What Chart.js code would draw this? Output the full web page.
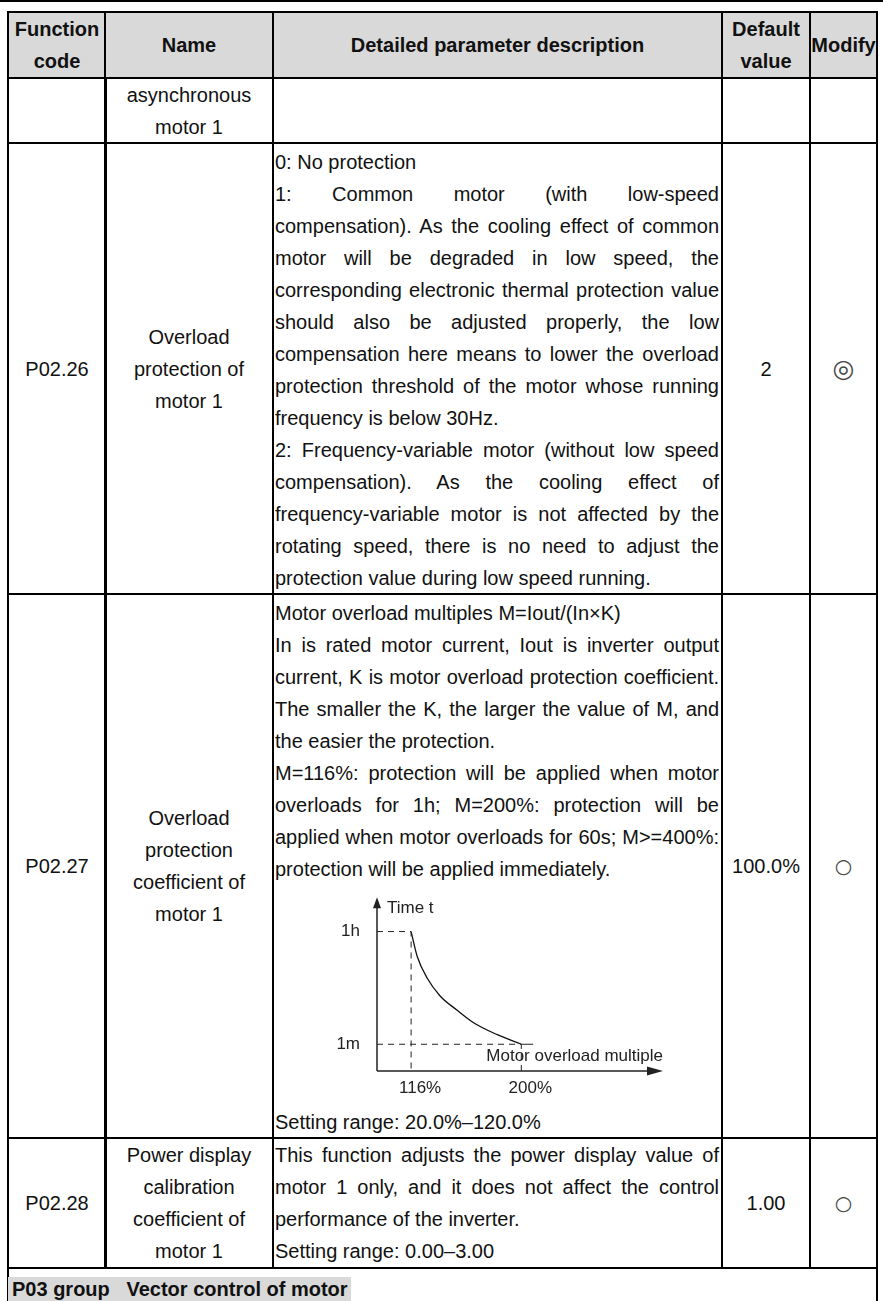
<!DOCTYPE html>
<html>
<head>
<meta charset="utf-8">
<script src="https://cdn.jsdelivr.net/npm/chart.js@4.4.0/dist/chart.umd.min.js"></script>
<style>
  html, body { margin: 0; padding: 0; background: #fff; }
  body { width: 883px; height: 1301px; position: relative; overflow: hidden;
         font-family: "Liberation Sans", Arial, sans-serif; font-size: 20px; color: #111; }
  .rule { position: absolute; left: 0; top: 0; width: 883px; height: 2px; background: #000; }
  .cell { position: absolute; box-sizing: border-box; border: 2px solid #000; }
  .hd { background: #d9d9d9; font-weight: bold; }
  .mid { display: flex; align-items: center; justify-content: center; text-align: center; line-height: 32px; }
  .desc { padding: 2px 2px 0 1px; line-height: 32px; }
  .j { text-align: justify; text-align-last: justify; }
  .sym { font-family: "DejaVu Sans", sans-serif; font-size: 20px; color: #444; }
  .sym2 { font-family: "DejaVu Sans", sans-serif; font-size: 25px; color: #444; }
  #chartBox { position: absolute; left: 327px; top: 870px; width: 350px; height: 240px; }
  .grp { position: absolute; left: 8px; top: 1277px; width: 343px; height: 30px; background: #d9d9d9;
         font-weight: bold; line-height: 24px; white-space: pre; padding-left: 4px; box-sizing: border-box; }
</style>
</head>
<body>
<div class="rule"></div>

<!-- header -->
<div class="cell hd mid" style="left:7px;top:11px;width:100px;height:68px;">Function<br>code</div>
<div class="cell hd mid" style="left:104px;top:11px;width:170px;height:68px;">Name</div>
<div class="cell hd mid" style="left:272px;top:11px;width:451px;height:68px;">Detailed parameter description</div>
<div class="cell hd mid" style="left:721px;top:11px;width:90px;height:68px;">Default<br>value</div>
<div class="cell hd mid" style="left:809px;top:11px;width:69px;height:68px;">Modify</div>

<!-- continued row -->
<div class="cell mid" style="left:7px;top:77px;width:100px;height:67px;"></div>
<div class="cell mid" style="left:104px;top:77px;width:170px;height:67px;">asynchronous<br>motor 1</div>
<div class="cell" style="left:272px;top:77px;width:451px;height:67px;"></div>
<div class="cell" style="left:721px;top:77px;width:90px;height:67px;"></div>
<div class="cell" style="left:809px;top:77px;width:69px;height:67px;"></div>

<!-- P02.26 -->
<div class="cell mid" style="left:7px;top:142px;width:100px;height:453px;">P02.26</div>
<div class="cell mid" style="left:104px;top:142px;width:170px;height:453px;">Overload<br>protection of<br>motor 1</div>
<div class="cell desc" style="left:272px;top:142px;width:451px;height:453px;">
  <div>0: No protection</div>
  <div class="j">1: Common motor (with low-speed</div>
  <div class="j">compensation). As the cooling effect of common</div>
  <div class="j">motor will be degraded in low speed, the</div>
  <div class="j">corresponding electronic thermal protection value</div>
  <div class="j">should also be adjusted properly, the low</div>
  <div class="j">compensation here means to lower the overload</div>
  <div class="j">protection threshold of the motor whose running</div>
  <div>frequency is below 30Hz.</div>
  <div class="j">2: Frequency-variable motor (without low speed</div>
  <div class="j">compensation). As the cooling effect of</div>
  <div class="j">frequency-variable motor is not affected by the</div>
  <div class="j">rotating speed, there is no need to adjust the</div>
  <div>protection value during low speed running.</div>
</div>
<div class="cell mid" style="left:721px;top:142px;width:90px;height:453px;">2</div>
<div class="cell mid sym2" style="left:809px;top:142px;width:69px;height:453px;">&#x25CE;</div>

<!-- P02.27 -->
<div class="cell mid" style="left:7px;top:593px;width:100px;height:546px;">P02.27</div>
<div class="cell mid" style="left:104px;top:593px;width:170px;height:546px;">Overload<br>protection<br>coefficient of<br>motor 1</div>
<div class="cell desc" style="left:272px;top:593px;width:451px;height:546px;">
  <div>Motor overload multiples M=Iout/(In&times;K)</div>
  <div class="j">In is rated motor current, Iout is inverter output</div>
  <div class="j">current, K is motor overload protection coefficient.</div>
  <div class="j">The smaller the K, the larger the value of M, and</div>
  <div>the easier the protection.</div>
  <div class="j">M=116%: protection will be applied when motor</div>
  <div class="j">overloads for 1h; M=200%: protection will be</div>
  <div class="j">applied when motor overloads for 60s; M&gt;=400%:</div>
  <div>protection will be applied immediately.</div>
  <div style="height:221px;"></div>
  <div>Setting range: 20.0%&ndash;120.0%</div>
</div>
<div class="cell mid" style="left:721px;top:593px;width:90px;height:546px;">100.0%</div>
<div class="cell mid sym" style="left:809px;top:593px;width:69px;height:546px;">&#x25CB;</div>

<!-- P02.28 -->
<div class="cell mid" style="left:7px;top:1137px;width:100px;height:132px;">P02.28</div>
<div class="cell mid" style="left:104px;top:1137px;width:170px;height:132px;">Power display<br>calibration<br>coefficient of<br>motor 1</div>
<div class="cell desc" style="left:272px;top:1137px;width:451px;height:132px;padding-top:0;">
  <div class="j">This function adjusts the power display value of</div>
  <div class="j">motor 1 only, and it does not affect the control</div>
  <div>performance of the inverter.</div>
  <div>Setting range: 0.00&ndash;3.00</div>
</div>
<div class="cell mid" style="left:721px;top:1137px;width:90px;height:132px;">1.00</div>
<div class="cell mid sym" style="left:809px;top:1137px;width:69px;height:132px;">&#x25CB;</div>

<!-- P03 group -->
<div class="cell" style="left:7px;top:1267px;width:871px;height:60px;"></div>
<div class="grp">P03 group   Vector control of motor</div>

<div id="chartBox"><canvas id="chart"></canvas></div>

<script>
// overload multiple (%) ticks and time ticks (minutes)
const xTickValues = [116, 200];
const xTickLabels = ['116%', '200%'];
const yTickValues = [1, 60];
const yTickLabels = ['1m', '1h'];
// inverse-time curve
const curveX = [116, 120.6, 128.2, 138.1, 151.1, 163.3, 181.7, 200];
const curveY = [60, 47.1, 35.7, 26.3, 18.8, 12.4, 6.0, 1];
const xRange = [90, 308];
const yRange = [-13, 78];
const lineTail = 209;

const ink = '#222';
const chartFont = { family: '"Liberation Sans", Arial, sans-serif', size: 17 };

const dashed = { borderColor: ink, borderWidth: 1, borderDash: [6, 5], pointRadius: 0, showLine: true, fill: false };

const datasets = [
  Object.assign({ data: [{ x: xRange[0], y: yTickValues[1] }, { x: xTickValues[0], y: yTickValues[1] }, { x: xTickValues[0], y: yRange[0] }] }, dashed),
  Object.assign({ data: [{ x: xRange[0], y: yTickValues[0] }, { x: xTickValues[1], y: yTickValues[0] }, { x: xTickValues[1], y: yRange[0] }] }, dashed),
  { data: [{ x: xTickValues[1], y: yTickValues[0] }, { x: lineTail, y: yTickValues[0] }],
    borderColor: ink, borderWidth: 1, pointRadius: 0, showLine: true },
  { data: curveX.map((x, i) => ({ x: x, y: curveY[i] })),
    borderColor: '#111', borderWidth: 1.3, pointRadius: 0, showLine: true, cubicInterpolationMode: 'monotone' }
];

const axesPlugin = {
  id: 'axes',
  afterDatasetsDraw(chart) {
    const ctx = chart.ctx;
    const xs = chart.scales.x, ys = chart.scales.y;
    const x0 = xs.left, y0 = ys.bottom, x1 = xs.right, y1 = ys.top;
    ctx.save();
    ctx.strokeStyle = ink;
    ctx.fillStyle = ink;
    ctx.lineWidth = 1.5;
    ctx.beginPath();
    ctx.moveTo(x0, y0); ctx.lineTo(x0, y1 + 6);
    ctx.moveTo(x0, y0); ctx.lineTo(x1 - 10, y0);
    ctx.stroke();
    ctx.beginPath();
    ctx.moveTo(x0, y1); ctx.lineTo(x0 - 4, y1 + 11); ctx.lineTo(x0 + 4, y1 + 11); ctx.closePath();
    ctx.fill();
    ctx.beginPath();
    ctx.moveTo(x1, y0); ctx.lineTo(x1 - 16, y0 - 4.5); ctx.lineTo(x1 - 16, y0 + 4.5); ctx.closePath();
    ctx.fill();
    ctx.font = '17px "Liberation Sans", Arial, sans-serif';
    ctx.textBaseline = 'middle';
    ctx.textAlign = 'left';
    ctx.fillText('Time t', x0 + 10, y1 + 11);
    ctx.textAlign = 'right';
    ctx.fillText('Motor overload multiple', x1, y0 - 15);
    ctx.restore();
  }
};

new Chart(document.getElementById('chart'), {
  type: 'scatter',
  data: { datasets: datasets },
  options: {
    responsive: true,
    maintainAspectRatio: false,
    animation: false,
    layout: { padding: { left: 0, top: 17, right: 14, bottom: 9 } },
    plugins: { legend: { display: false }, tooltip: { enabled: false } },
    scales: {
      x: {
        type: 'linear', min: xRange[0], max: xRange[1],
        grid: { display: false, drawTicks: false },
        border: { display: false },
        afterBuildTicks: s => { s.ticks = xTickValues.map(v => ({ value: v })); },
        afterFit: s => { s.height = 30; },
        ticks: { font: chartFont, color: ink, padding: 7, labelOffset: 9, maxRotation: 0,
                 callback: v => xTickLabels[xTickValues.indexOf(v)] }
      },
      y: {
        type: 'linear', min: yRange[0], max: yRange[1],
        grid: { display: false, drawTicks: false },
        border: { display: false },
        afterBuildTicks: s => { s.ticks = yTickValues.map(v => ({ value: v })); },
        afterFit: s => { s.width = 50; },
        ticks: { font: chartFont, color: ink, padding: 17,
                 callback: v => yTickLabels[yTickValues.indexOf(v)] }
      }
    }
  },
  plugins: [axesPlugin]
});
</script>
</body>
</html>
